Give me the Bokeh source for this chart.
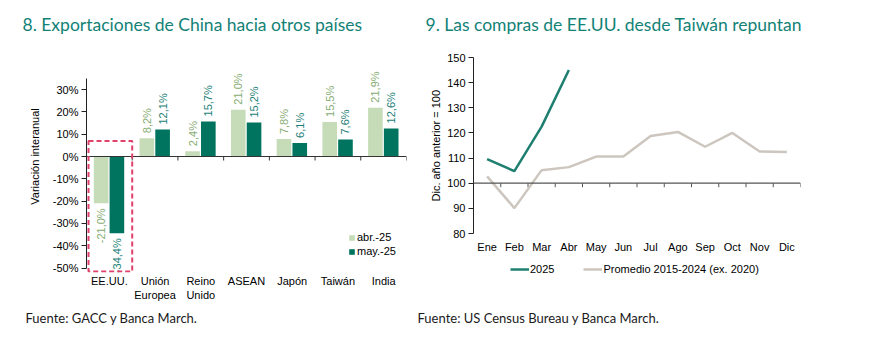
import math
from bokeh.plotting import figure
from bokeh.models import (ColumnDataSource, Range1d, FixedTicker, NumeralTickFormatter,
                          Span, BoxAnnotation, Legend, Title)
from bokeh.transform import dodge
from bokeh.layouts import row
from bokeh.embed import file_html
from bokeh.resources import INLINE

# ---------------- data ----------------
paises = ["EE.UU.", "Unión\nEuropea", "Reino\nUnido", "ASEAN", "Japón", "Taiwán", "India"]
abr_25 = [-21.0, 8.2, 2.4, 21.0, 7.8, 15.5, 21.9]
may_25 = [-34.4, 12.1, 15.7, 15.2, 6.1, 7.6, 12.6]
ticks_pct = [-50, -40, -30, -20, -10, 0, 10, 20, 30]

meses = ["Ene", "Feb", "Mar", "Abr", "May", "Jun", "Jul", "Ago", "Sep", "Oct", "Nov", "Dic"]
serie_2025 = [109.6, 104.8, 122.5, 145.0]
promedio = [102.7, 90.1, 105.2, 106.4, 110.6, 110.6, 118.8, 120.4, 114.5, 120.0, 112.6, 112.4]
ticks_idx = [80, 90, 100, 110, 120, 130, 140, 150]

# ---------------- styles ----------------
LIGHT = "#C6DCB8"
DARK = "#00745F"
LIGHT_TXT = "#86AC72"
DARK_TXT = "#1D7F78"
TITLE_C = "#128277"
AX_FONT = "Liberation Sans"
TITLE_FONT = "Lato"


def style_axis_fonts(p):
    for ax in (p.xaxis[0], p.yaxis[0]):
        ax.major_label_text_font = AX_FONT
        ax.major_label_text_font_size = "11px"
        ax.major_label_text_color = "#000000"
        ax.axis_label_text_font = AX_FONT
        ax.axis_label_text_font_size = "11px"
        ax.axis_label_text_font_style = "normal"
        ax.axis_label_text_color = "#000000"


# ---------------- left chart ----------------
L_W, L_H = 410, 352
L_BL, L_BR, L_BT, L_BB = 86, 4, 40, 80
Y0, Y1 = -0.52, 0.52
n = len(paises)
fh = L_H - L_BT - L_BB
px_y = (Y1 - Y0) / fh  # data units per pixel

p1 = figure(width=L_W, height=L_H, x_range=Range1d(0, n), y_range=Range1d(Y0, Y1),
            output_backend="svg", toolbar_location=None,
            min_border_left=L_BL, min_border_right=L_BR,
            min_border_top=L_BT, min_border_bottom=L_BB)
p1.frame_align = False
p1.outline_line_color = None
p1.grid.grid_line_color = None
p1.background_fill_color = "white"
p1.border_fill_color = "white"

xc = [i + 0.5 for i in range(n)]


def lab(v):
    return f"{v:.1f}".replace(".", ",") + "%"


src = ColumnDataSource(dict(
    xc=xc,
    abr=[v / 100 for v in abr_25],
    may=[v / 100 for v in may_25],
    abr_t=[lab(v) for v in abr_25],
    may_t=[lab(v) for v in may_25],
    abr_y=[v / 100 + (5 * px_y if v >= 0 else -5 * px_y) for v in abr_25],
    may_y=[v / 100 + (5 * px_y if v >= 0 else -5 * px_y) for v in may_25],
    abr_al=["left" if v >= 0 else "right" for v in abr_25],
    may_al=["left" if v >= 0 else "right" for v in may_25],
))

OFF_A, OFF_M, BW = -0.18, 0.165, 0.32
r_a = p1.vbar(x=dodge("xc", OFF_A, range=p1.x_range), top="abr", bottom=0, width=BW,
              source=src, fill_color=LIGHT, line_color=None)
r_m = p1.vbar(x=dodge("xc", OFF_M, range=p1.x_range), top="may", bottom=0, width=BW,
              source=src, fill_color=DARK, line_color=None)

p1.text(x=dodge("xc", OFF_A, range=p1.x_range), y="abr_y", text="abr_t", source=src,
        angle=math.pi / 2, text_align="abr_al", text_baseline="middle",
        text_font={"value": AX_FONT}, text_font_size="11px", text_color=LIGHT_TXT)
p1.text(x=dodge("xc", OFF_M, range=p1.x_range), y="may_y", text="may_t", source=src,
        angle=math.pi / 2, text_align="may_al", text_baseline="middle",
        text_font={"value": AX_FONT}, text_font_size="11px", text_color=DARK_TXT)

# zero line + boundary ticks
p1.add_layout(Span(location=0, dimension="width", line_color="#333333", line_width=1))
bnd = list(range(1, n + 1))
p1.segment(x0=bnd, x1=bnd, y0=[0] * len(bnd), y1=[-4 * px_y] * len(bnd),
           line_color="#333333", line_width=1)

# highlight box around EE.UU.
i0 = 0
p1.add_layout(BoxAnnotation(left=i0 + 0.044, right=i0 + 1.0, top=0.069, bottom=-0.515,
                            fill_alpha=0, line_color="#E0406A", line_alpha=1.0,
                            line_width=2, line_dash="5 3"))

# axes
p1.yaxis.ticker = FixedTicker(ticks=[t / 100 for t in ticks_pct])
p1.yaxis.formatter = NumeralTickFormatter(format="0%")
p1.yaxis.bounds = (-0.5, 0.35)
p1.yaxis.minor_tick_line_color = None
p1.yaxis.major_tick_in = 0
p1.yaxis.major_tick_out = 5
p1.yaxis.major_label_standoff = 3
p1.yaxis.axis_line_color = "#222222"
p1.yaxis.major_tick_line_color = "#222222"
p1.yaxis.axis_label = "Variación interanual"
p1.yaxis.axis_label_standoff = 9

p1.xaxis.ticker = FixedTicker(ticks=xc)
p1.xaxis.major_label_overrides = {x: name for x, name in zip(xc, paises)}
p1.xaxis.axis_line_color = None
p1.xaxis.major_tick_line_color = None
p1.xaxis.minor_tick_line_color = None
p1.xaxis.major_tick_out = 0
p1.xaxis.major_tick_in = 0
p1.xaxis.major_label_standoff = 2
style_axis_fonts(p1)

leg1 = Legend(items=[("abr.-25", [r_a]), ("may.-25", [r_m])], location=(262, 15),
              glyph_width=7, glyph_height=7, label_height=12, label_standoff=2,
              spacing=2, padding=0, margin=0, border_line_color=None,
              background_fill_alpha=0, label_text_font=AX_FONT,
              label_text_font_size="11px", label_text_color="#000000")
p1.add_layout(leg1)

p1.title = Title(text="8. Exportaciones de China hacia otros países", align="left",
                 offset=22 - L_BL, standoff=11, text_font=TITLE_FONT, text_font_size="17.5px",
                 text_font_style="normal", text_color=TITLE_C)
p1.add_layout(Title(text="Fuente: GACC y Banca March.", align="left", offset=25 - L_BL,
                    standoff=8, text_font=TITLE_FONT, text_font_size="13px",
                    text_font_style="normal", text_color="#1a1a1a"), "below")

# ---------------- right chart ----------------
R_W, R_H = 475, 352
R_BL, R_BR, R_BT, R_BB = 63, 85, 40, 72
AXIS_TOP_PX = 57                 # pixel row of the value 150
PX_PER_UNIT = 176 / 70           # 10 units = 25.1 px
m = len(meses)
rfh = R_H - R_BT - R_BB
py_r = 1 / PX_PER_UNIT
YR_TOP = max(ticks_idx) + (AXIS_TOP_PX - R_BT) * py_r
YR_BOT = YR_TOP - rfh * py_r

p2 = figure(width=R_W, height=R_H, x_range=Range1d(0, m), y_range=Range1d(YR_BOT, YR_TOP),
            output_backend="svg", toolbar_location=None,
            min_border_left=R_BL, min_border_right=R_BR,
            min_border_top=R_BT, min_border_bottom=R_BB)
p2.frame_align = False
p2.outline_line_color = None
p2.grid.grid_line_color = None
p2.background_fill_color = "white"
p2.border_fill_color = "white"

mx = [i + 0.5 for i in range(m)]

p2.add_layout(Span(location=100, dimension="width", line_color="#555555", line_width=1.2))
bnd2 = list(range(1, m + 1))
p2.segment(x0=bnd2, x1=bnd2, y0=[100] * m, y1=[100 - 4 * py_r] * m,
           line_color="#555555", line_width=1)

r_p = p2.line(x=mx, y=promedio, line_color="#CCC6BE", line_width=2.5)
r_25 = p2.line(x=mx[:len(serie_2025)], y=serie_2025, line_color="#1E7F70", line_width=2.5)

p2.yaxis.ticker = FixedTicker(ticks=ticks_idx)
p2.yaxis.bounds = (min(ticks_idx), max(ticks_idx))
p2.yaxis.minor_tick_line_color = None
p2.yaxis.major_tick_in = 0
p2.yaxis.major_tick_out = 5
p2.yaxis.major_label_standoff = 3
p2.yaxis.axis_line_color = "#222222"
p2.yaxis.major_tick_line_color = "#222222"

p2.xaxis.ticker = FixedTicker(ticks=mx)
p2.xaxis.fixed_location = min(ticks_idx)
p2.xaxis.major_label_overrides = {x: name for x, name in zip(mx, meses)}
p2.xaxis.axis_line_color = None
p2.xaxis.major_tick_line_color = None
p2.xaxis.minor_tick_line_color = None
p2.xaxis.major_tick_out = 0
p2.xaxis.major_tick_in = 0
p2.xaxis.major_label_standoff = 7
style_axis_fonts(p2)

# vertical axis title, placed in the left panel so it can sit off-centre
p2.add_layout(Title(text="Dic. año anterior = 100", align="left", offset=79, standoff=5,
                    text_font=AX_FONT, text_font_size="11px", text_font_style="normal",
                    text_color="#000000"), "left")

leg2 = Legend(items=[("2025", [r_25]), ("Promedio 2015-2024 (ex. 2020)", [r_p])],
              orientation="horizontal", location=(37, 5),
              glyph_width=19, glyph_height=12, label_height=12, label_standoff=1,
              spacing=29, padding=0, margin=0, border_line_color=None,
              background_fill_alpha=0, label_text_font=AX_FONT,
              label_text_font_size="11px", label_text_color="#000000")
p2.add_layout(leg2)

p2.title = Title(text="9. Las compras de EE.UU. desde Taiwán repuntan", align="left",
                 offset=425 - L_W - R_BL, standoff=11, text_font=TITLE_FONT,
                 text_font_size="17.5px", text_font_style="normal", text_color=TITLE_C)
p2.add_layout(Title(text="Fuente: US Census Bureau y Banca March.", align="left",
                    offset=417 - L_W - R_BL, standoff=54, text_font=TITLE_FONT,
                    text_font_size="13px", text_font_style="normal",
                    text_color="#1a1a1a"), "below")

layout = row(p1, p2, spacing=0)
open("out.html", "w").write(file_html(layout, INLINE))
